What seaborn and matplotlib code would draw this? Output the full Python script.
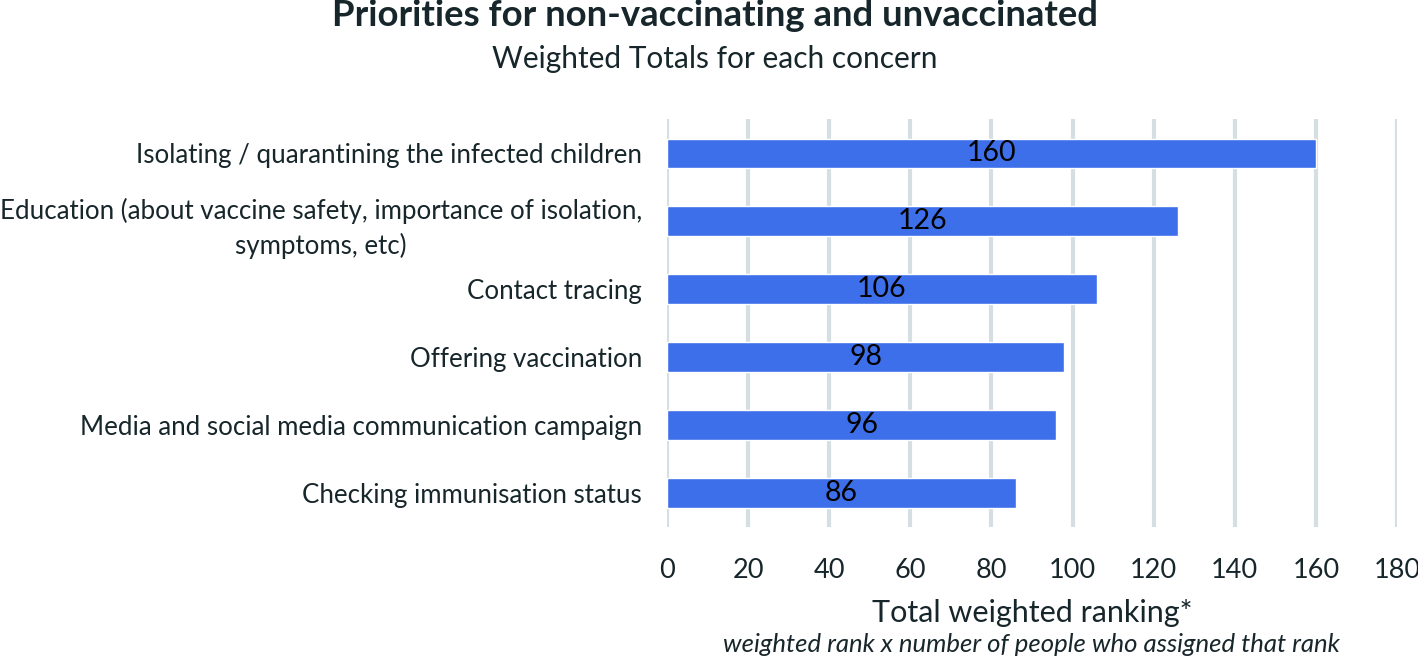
import pandas as pd
import matplotlib.pyplot as plt
import seaborn as sns

# data
categories = [
    "Isolating / quarantining the infected children",
    "Education (about vaccine safety, importance of isolation,\nsymptoms, etc)",
    "Contact tracing",
    "Offering vaccination",
    "Media and social media communication campaign",
    "Checking immunisation status",
]
totals = [160, 126, 106, 98, 96, 86]
x_ticks = [0, 20, 40, 60, 80, 100, 120, 140, 160, 180]

df = pd.DataFrame({"concern": categories, "total": totals})

sns.set_theme(style="white")
plt.rcParams["font.family"] = ["Lato", "DejaVu Sans"]

text_col = "#17262b"
bar_col = "#3d6fea"
grid_col = "#d5dee3"

fig = plt.figure(figsize=(14.18, 6.62), dpi=100)
ax = fig.add_axes([0.4704, 0.204, 0.5148, 0.616])

sns.barplot(data=df, x="total", y="concern", color=bar_col, saturation=1,
            width=0.43, ax=ax, zorder=3)

# value labels in the middle of each bar
for i, v in enumerate(totals):
    ax.text(v / 2, i, str(v), ha="center", va="center", fontsize=20.5, color="black", zorder=4)

ax.set_xlim(0, 180)
ax.set_xticks(x_ticks)
ax.grid(axis="x", color=grid_col, linewidth=3, zorder=0)
ax.grid(axis="y", visible=False)
for s in ax.spines.values():
    s.set_visible(False)

ax.tick_params(axis="x", labelsize=19.5, labelcolor=text_col, pad=22, length=0)
ax.tick_params(axis="y", labelsize=18.6, labelcolor=text_col, pad=18, length=0)
for lab in ax.get_yticklabels():
    lab.set_multialignment("center")
    lab.set_linespacing(1.45)

ax.set_ylabel("")
ax.set_xlabel("Total weighted ranking*", fontsize=22, color=text_col, labelpad=12)

fig.text(0.7275, 0.026, "weighted rank x number of people who assigned that rank",
         ha="center", va="center", fontsize=18.5, style="italic", color=text_col)

fig.text(0.504, 0.976, "Priorities for non-vaccinating and unvaccinated",
         ha="center", va="center", fontsize=26.3, fontweight="bold", color=text_col)
fig.text(0.504, 0.911, "Weighted Totals for each concern",
         ha="center", va="center", fontsize=21.5, color=text_col)

fig.savefig("out.png", dpi=100)
